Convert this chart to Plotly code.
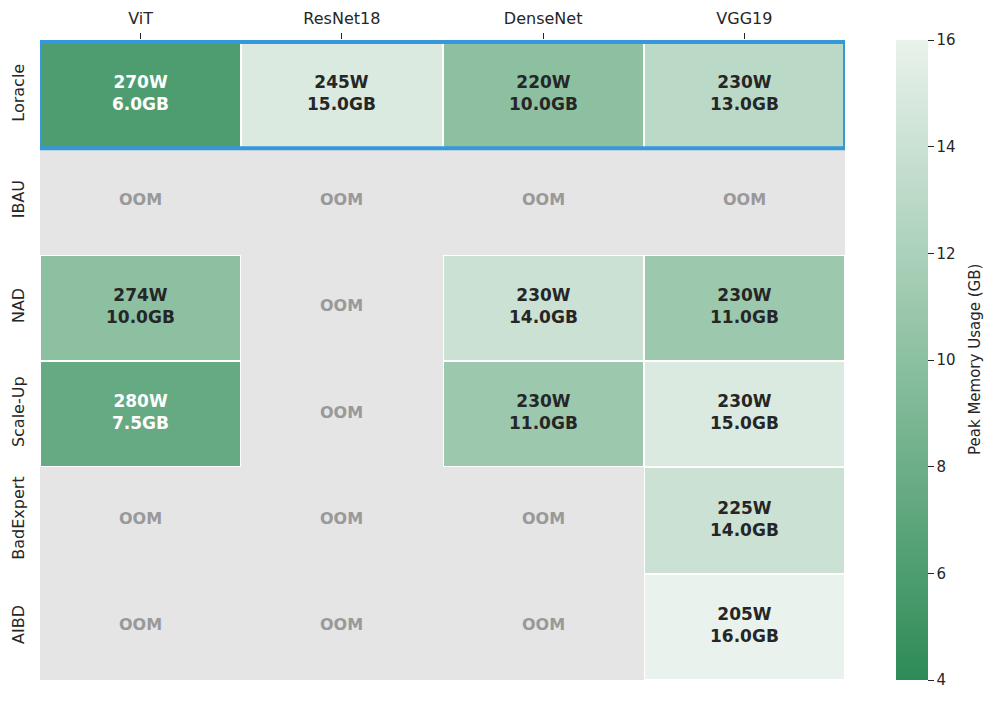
import plotly.graph_objects as go

models = ["ViT", "ResNet18", "DenseNet", "VGG19"]
methods = ["Loracle", "IBAU", "NAD", "Scale-Up", "BadExpert", "AIBD"]

# Peak memory (GB); None = OOM
memory = [
    [6.0, 15.0, 10.0, 13.0],
    [None, None, None, None],
    [10.0, None, 14.0, 11.0],
    [7.5, None, 11.0, 15.0],
    [None, None, None, 14.0],
    [None, None, None, 16.0],
]
# Power (W); None = OOM
power = [
    [270, 245, 220, 230],
    [None, None, None, None],
    [274, None, 230, 230],
    [280, None, 230, 230],
    [None, None, None, 225],
    [None, None, None, 205],
]

FONT = "DejaVu Sans"
colorscale = [[0.0, "#2e8b57"], [0.5, "#8cc0a1"], [1.0, "#e9f2ec"]]

fig = go.Figure()

# white underlay for colored cells (borders)
mask = [[1 if v is not None else None for v in row] for row in memory]
fig.add_trace(go.Heatmap(
    z=mask, x=models, y=methods,
    colorscale=[[0, "white"], [1, "white"]], showscale=False, hoverinfo="skip",
))
fig.add_trace(go.Heatmap(
    z=memory, x=models, y=methods,
    colorscale=colorscale, zmin=4, zmax=16,
    xgap=2, ygap=2,
    colorbar=dict(
        x=1.0634, xanchor="left", y=0.5, yanchor="middle", len=1.0,
        xpad=0, ypad=0,
        thickness=32, outlinewidth=0,
        ticks="outside", ticklen=6, tickcolor="#262626",
        tickvals=[4, 6, 8, 10, 12, 14, 16],
        tickfont=dict(family=FONT, size=15, color="#262626"),
    ),
))

# colorbar title
fig.add_annotation(xref="paper", yref="paper", x=1.1615, y=0.5, xanchor="center", yanchor="middle",
                   text="Peak Memory Usage (GB)", textangle=-90, showarrow=False,
                   font=dict(family=FONT, size=15, color="#262626"))

for i, m in enumerate(methods):
    for j, c in enumerate(models):
        v = memory[i][j]
        if v is None:
            fig.add_annotation(x=c, y=m, text="OOM", showarrow=False, yshift=2,
                               font=dict(family=FONT, size=16, color="#999999", weight="bold"))
        else:
            col = "white" if v < 8 else "#262626"
            fig.add_annotation(x=c, y=m, text=f"{power[i][j]}W<br>{v:.1f}GB", showarrow=False,
                               yshift=2,
                               font=dict(family=FONT, size=17, color=col, weight="bold"))

# highlight box around Loracle row
fig.add_shape(type="rect", xref="x", yref="y", x0=-0.5, x1=len(models) - 0.5,
              y0=-0.5, y1=0.5, line=dict(color="#3498db", width=4), fillcolor="rgba(0,0,0,0)")

fig.update_layout(
    width=996, height=702,
    margin=dict(l=32, r=159, t=32, b=30, autoexpand=False),
    plot_bgcolor="#e5e5e5", paper_bgcolor="white",
    showlegend=False,
)
fig.update_xaxes(side="top", showgrid=False, zeroline=False, showline=False,
                 ticks="outside", ticklen=6, tickcolor="#262626", automargin=False,
                 tickfont=dict(family=FONT, size=16, color="#262626"),
                 ticklabelstandoff=3, range=[-0.5, 3.5])
fig.update_yaxes(autorange="reversed", showgrid=False, zeroline=False, showline=False,
                 tickangle=-90, tickfont=dict(family=FONT, size=16, color="#262626"),
                 ticks="", ticklabelstandoff=12, automargin=False)

fig.write_html("out.html")
